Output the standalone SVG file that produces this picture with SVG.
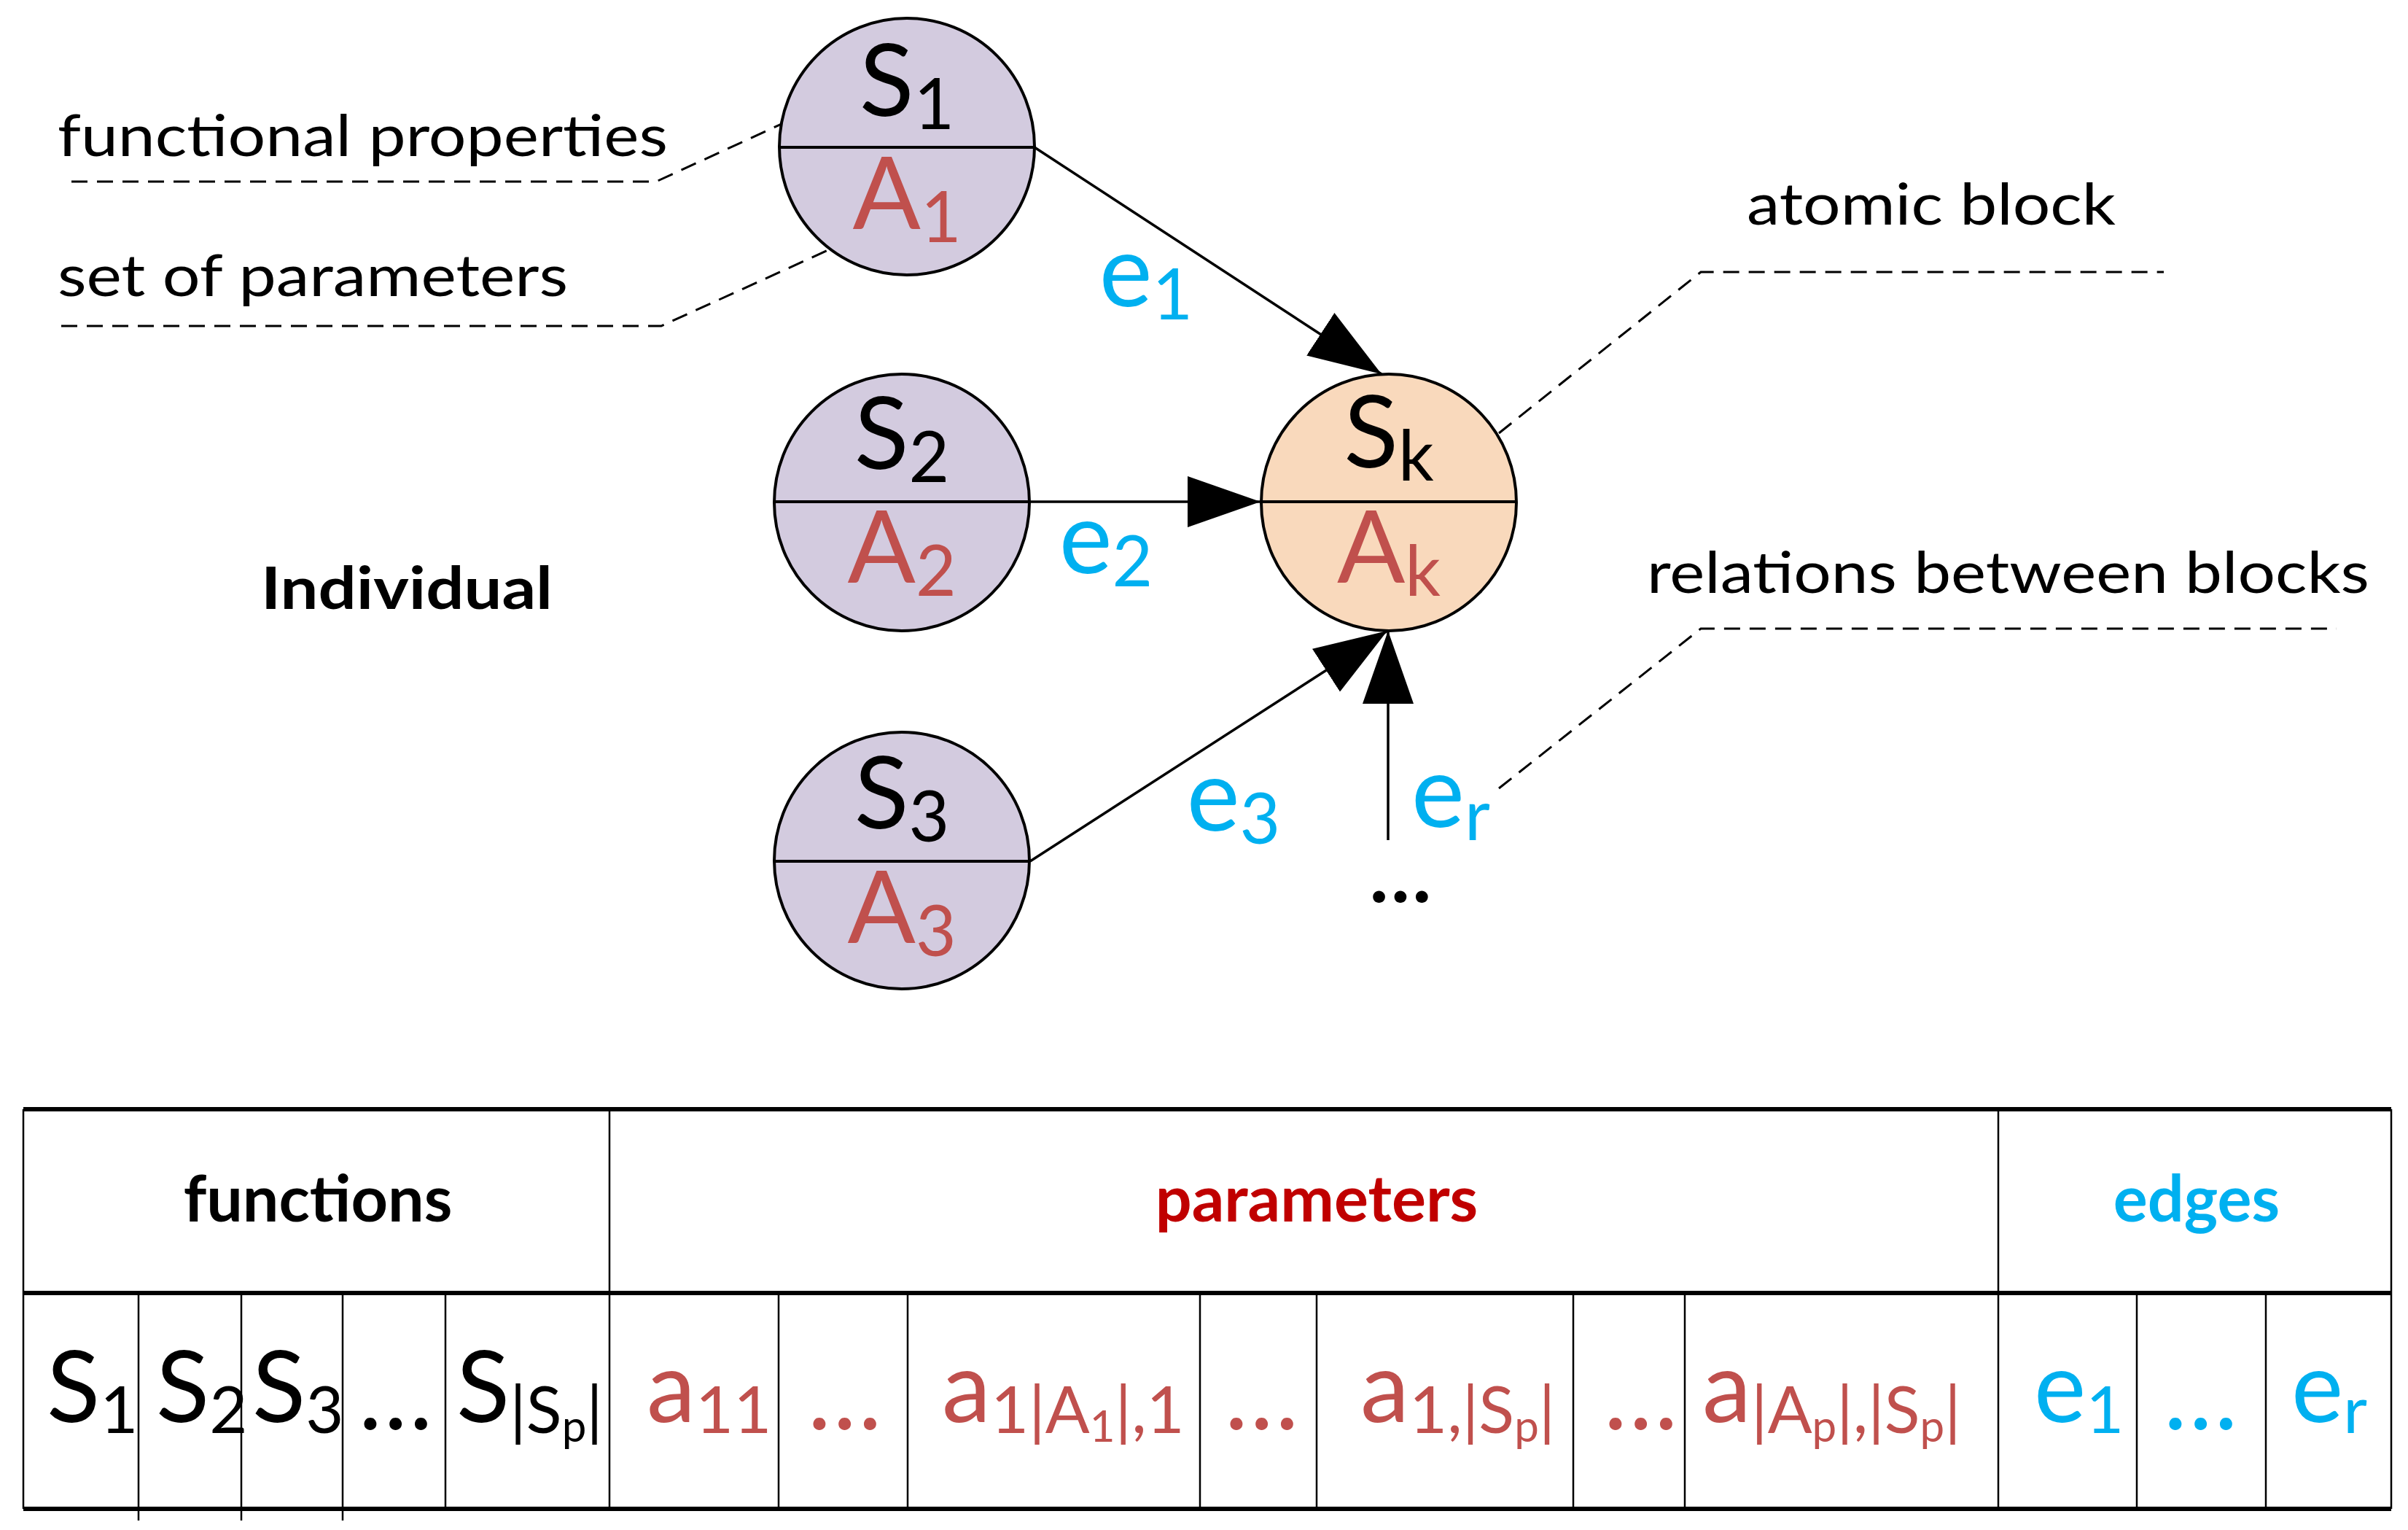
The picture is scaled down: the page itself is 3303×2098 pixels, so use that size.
<svg xmlns="http://www.w3.org/2000/svg" width="3303" height="2098" viewBox="0 0 3303 2098">
<style>
text{font-family:Lato,"Noto Sans",sans-serif}
.ell{fill:#D3CBDF;stroke:#000;stroke-width:4}
.ellk{fill:#F9D9BC;stroke:#000;stroke-width:4}
.div{stroke:#000;stroke-width:4}
.big{font-size:138px;text-anchor:middle}
.sub{font-size:96px}
.blk{fill:#000}
.red{fill:#C0504D}
.blue{fill:#00B0F0}
.ann{font-size:80px;fill:#000}
.dash{fill:none;stroke:#000;stroke-width:3;stroke-dasharray:22 13}
.edge{fill:none;stroke:#000;stroke-width:3.5}
.tl{stroke:#000;stroke-width:2.5}
.th{stroke:#000;stroke-width:6}
.hdr{font-size:88px;font-weight:bold;text-anchor:middle}
.cell{font-size:135px}
.cs{font-size:90px}
.css{font-size:60px}
</style>
<defs>
<marker id="arr" markerUnits="userSpaceOnUse" markerWidth="100" markerHeight="70" refX="100" refY="35" orient="auto">
<path d="M0,0 L100,35 L0,70 z" fill="#000"/>
</marker>
</defs>
<g id="connectors">
<line class="edge" x1="1419" y1="202" x2="1895" y2="513" marker-end="url(#arr)"/>
<line class="edge" x1="1413" y1="688" x2="1729" y2="688" marker-end="url(#arr)"/>
<line class="edge" x1="1413" y1="1181" x2="1903" y2="865" marker-end="url(#arr)"/>
<line class="edge" x1="1904" y1="1152" x2="1904" y2="865" marker-end="url(#arr)"/>
<polyline class="dash" points="98,249 900,249 1157,131"/>
<polyline class="dash" points="84,447 907,447 1160,332"/>
<polyline class="dash" points="2056,594 2333,373 2968,373"/>
<polyline class="dash" points="2056,1081 2333,862 3205,862"/>
</g>
<g id="node1">
<ellipse class="ell" cx="1244" cy="201" rx="175" ry="176"/>
<line class="div" x1="1069" y1="202" x2="1419" y2="202"/>
<text class="big blk" x="1244" y="159">S<tspan class="sub" dy="18">1</tspan></text>
<text class="big red" x="1244" y="314">A<tspan class="sub" dy="18">1</tspan></text>
</g>
<g id="node2">
<ellipse class="ell" cx="1237" cy="689" rx="175" ry="176"/>
<line class="div" x1="1062" y1="688" x2="1412" y2="688"/>
<text class="big blk" x="1237" y="643">S<tspan class="sub" dy="18">2</tspan></text>
<text class="big red" x="1237" y="799">A<tspan class="sub" dy="18">2</tspan></text>
</g>
<g id="node3">
<ellipse class="ell" cx="1237" cy="1180" rx="175" ry="176"/>
<line class="div" x1="1062" y1="1181" x2="1412" y2="1181"/>
<text class="big blk" x="1237" y="1136">S<tspan class="sub" dy="18">3</tspan></text>
<text class="big red" x="1237" y="1293">A<tspan class="sub" dy="18">3</tspan></text>
</g>
<g id="nodek">
<ellipse class="ellk" cx="1905" cy="689" rx="175" ry="176"/>
<line class="div" x1="1730" y1="688" x2="2080" y2="688"/>
<text class="big blk" x="1905" y="641">S<tspan class="sub" dy="18">k</tspan></text>
<text class="big red" x="1905" y="799">A<tspan class="sub" dy="18">k</tspan></text>
</g>
<g id="labels">
<text class="big blue" x="1572" y="420">e<tspan class="sub" dy="18">1</tspan></text>
<text class="big blue" x="1517" y="786">e<tspan class="sub" dy="18">2</tspan></text>
<text class="big blue" x="1692" y="1139">e<tspan class="sub" dy="18">3</tspan></text>
<text class="big blue" x="1990" y="1134">e<tspan class="sub" dy="18">r</tspan></text>
<text class="blk" x="1921" y="1237" style="font-size:110px;font-weight:bold;text-anchor:middle">…</text>
<text class="ann" x="79" y="214" textLength="837" lengthAdjust="spacingAndGlyphs">functional properties</text>
<text class="ann" x="79" y="406" textLength="700" lengthAdjust="spacingAndGlyphs">set of parameters</text>
<text class="ann" x="358" y="835" style="font-weight:bold" textLength="400" lengthAdjust="spacingAndGlyphs">Individual</text>
<text class="ann" x="2396" y="308" textLength="506" lengthAdjust="spacingAndGlyphs">atomic block</text>
<text class="ann" x="2259" y="813" textLength="991" lengthAdjust="spacingAndGlyphs">relations between blocks</text>
</g>
<g id="table">
<line class="th" x1="32" y1="1521" x2="3280" y2="1521"/>
<line class="th" x1="32" y1="1773" x2="3280" y2="1773"/>
<line class="th" x1="32" y1="2069" x2="3280" y2="2069"/>
<line class="tl" x1="32" y1="1521" x2="32" y2="2069"/>
<line class="tl" x1="3280" y1="1521" x2="3280" y2="2069"/>
<line class="tl" x1="836" y1="1521" x2="836" y2="2069"/>
<line class="tl" x1="2741" y1="1521" x2="2741" y2="2069"/>
<line class="tl" x1="190" y1="1773" x2="190" y2="2085"/>
<line class="tl" x1="331" y1="1773" x2="331" y2="2085"/>
<line class="tl" x1="470" y1="1773" x2="470" y2="2085"/>
<line class="tl" x1="611" y1="1773" x2="611" y2="2069"/>
<line class="tl" x1="1068" y1="1773" x2="1068" y2="2069"/>
<line class="tl" x1="1245" y1="1773" x2="1245" y2="2069"/>
<line class="tl" x1="1646" y1="1773" x2="1646" y2="2069"/>
<line class="tl" x1="1806" y1="1773" x2="1806" y2="2069"/>
<line class="tl" x1="2158" y1="1773" x2="2158" y2="2069"/>
<line class="tl" x1="2311" y1="1773" x2="2311" y2="2069"/>
<line class="tl" x1="2931" y1="1773" x2="2931" y2="2069"/>
<line class="tl" x1="3108" y1="1773" x2="3108" y2="2069"/>
<text class="hdr blk" x="436" y="1675">functions</text>
<text class="hdr" x="1806" y="1675" fill="#C00000">parameters</text>
<text class="hdr blue" x="3013" y="1675">edges</text>
<text class="cell blk" x="64" y="1950">S<tspan class="cs" dy="15">1</tspan></text>
<text class="cell blk" x="214" y="1950">S<tspan class="cs" dy="15">2</tspan></text>
<text class="cell blk" x="346" y="1950">S<tspan class="cs" dy="15">3</tspan></text>
<text class="cell blk" x="492" y="1960">…</text>
<text class="cell blk" x="626" y="1950">S<tspan class="cs" dy="15">|S<tspan class="css" dy="12">p</tspan><tspan dy="-12">|</tspan></tspan></text>
<text class="cell red" x="887" y="1950">a<tspan class="cs" dy="15">11</tspan></text>
<text class="cell red" x="1108" y="1960">…</text>
<text class="cell red" x="1292" y="1950">a<tspan class="cs" dy="15">1|A<tspan class="css" dy="12">1</tspan><tspan dy="-12">|,1</tspan></tspan></text>
<text class="cell red" x="1680" y="1960">…</text>
<text class="cell red" x="1866" y="1950">a<tspan class="cs" dy="15">1,|S<tspan class="css" dy="12">p</tspan><tspan dy="-12">|</tspan></tspan></text>
<text class="cell red" x="2200" y="1960">…</text>
<text class="cell red" x="2335" y="1950">a<tspan class="cs" dy="15">|A<tspan class="css" dy="12">p</tspan><tspan dy="-12">|,|S</tspan><tspan class="css" dy="12">p</tspan><tspan dy="-12">|</tspan></tspan></text>
<text class="cell blue" x="2790" y="1950">e<tspan class="cs" dy="15">1</tspan></text>
<text class="cell blue" x="2968" y="1960">…</text>
<text class="cell blue" x="3143" y="1950">e<tspan class="cs" dy="15">r</tspan></text>
</g>
</svg>
